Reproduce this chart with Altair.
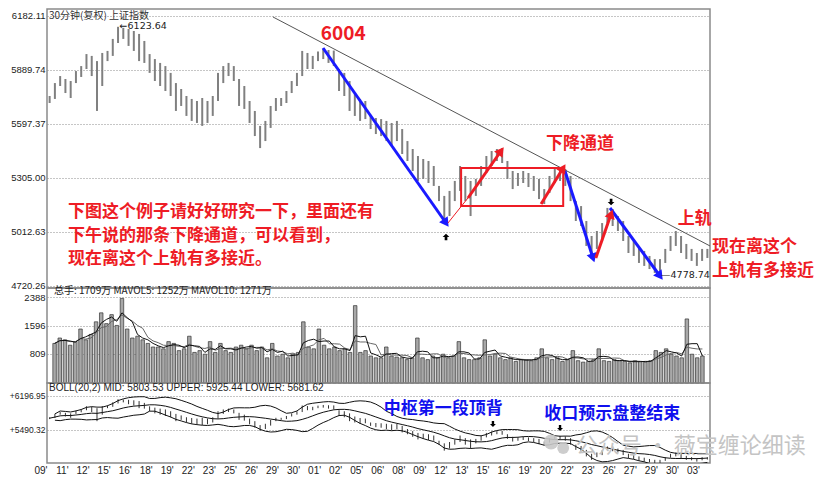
import altair as alt
import pandas as pd

# ---------------- data ----------------
days = ['09', '11', '12', '15', '16', '18', '19', '22', '23', '25', '26', '29', '30', '01', '02', '05',
        '06', '08', '09', '12', '13', '15', '16', '19', '20', '22', '23', '26', '27', '29', '30', '03']

high = [5749, 5819, 5857, 5841, 5830, 5884, 5911, 5976, 5966, 5938,
        5982, 5993, 6058, 6123.64, 6118, 6112, 6101, 6085, 6047, 5976,
        5949, 5928, 5911, 5874, 5819, 5787, 5749, 5733, 5722, 5738,
        5722, 5749, 5874, 5911, 5928, 5911, 5841, 5803, 5722, 5668,
        5587, 5614, 5695, 5738, 5738, 5776, 5830, 5874, 5993, 5982,
        5966, 5990, 6004, 5998, 5995, 5895, 5874, 5830, 5765, 5733,
        5722, 5641, 5630, 5624, 5614, 5603, 5614, 5570, 5505, 5462,
        5424, 5408, 5397, 5370, 5262, 5208, 5235, 5289, 5370, 5316,
        5289, 5300, 5370, 5424, 5451, 5462, 5467, 5397, 5343, 5332,
        5343, 5332, 5316, 5300, 5245, 5316, 5354, 5362, 5354, 5316,
        5180, 5153, 5072, 4991, 5018, 5061, 5143, 5137, 5099, 5072,
        4991, 4964, 4937, 4910, 4883, 4866, 4866, 4921, 4991, 5018,
        4991, 4948, 4921, 4899, 4921, 4921]

low = [5711, 5733, 5803, 5765, 5738, 5819, 5852, 5895, 5857, 5668,
       5803, 5938, 5966, 6036, 6058, 6020, 5993, 5938, 5928, 5874,
       5830, 5803, 5776, 5749, 5668, 5695, 5641, 5614, 5603, 5587,
       5603, 5641, 5722, 5819, 5857, 5830, 5695, 5679, 5603, 5532,
       5467, 5505, 5576, 5668, 5695, 5711, 5765, 5803, 5857, 5895,
       5895, 5938, 5949, 5928, 5911, 5776, 5749, 5668, 5641, 5614,
       5624, 5570, 5543, 5532, 5505, 5478, 5505, 5435, 5397, 5343,
       5289, 5300, 5278, 5262, 5180, 5056, 5099, 5180, 5235, 5180,
       5099, 5208, 5262, 5332, 5370, 5397, 5386, 5300, 5245, 5262,
       5278, 5256, 5235, 5191, 5164, 5224, 5278, 5289, 5262, 5180,
       5072, 5045, 4937, 4866, 4921, 4964, 5061, 5045, 5018, 4964,
       4899, 4883, 4845, 4829, 4812, 4791, 4778.74, 4845, 4910, 4937,
       4899, 4866, 4856, 4829, 4856, 4872]

vol = [1100, 1250, 1200, 1050, 1150, 1500, 1200, 1350, 1700, 1950,
       1650, 1900, 1600, 2350, 1500, 1250, 1300, 1200, 1100, 1000,
       1000, 950, 1150, 1100, 900, 950, 1300, 850, 900, 800,
       1150, 850, 1100, 900, 850, 1000, 1050, 950, 1050, 900,
       1000, 700, 1100, 750, 800, 700, 800, 850, 1700, 1000,
       950, 1500, 1050, 950, 1000, 900, 950, 850, 2150, 850,
       900, 750, 700, 700, 1000, 750, 720, 700, 650, 700,
       1250, 700, 650, 750, 700, 800, 700, 750, 1150, 700,
       650, 650, 700, 1200, 750, 800, 700, 650, 700, 600,
       650, 650, 620, 700, 950, 700, 650, 700, 600, 650,
       900, 620, 580, 600, 650, 950, 620, 600, 650, 620,
       600, 560, 620, 600, 580, 620, 900, 850, 950, 800,
       750, 700, 1780, 800, 700, 750]

price_ticks = [6182.11, 5889.74, 5597.37, 5305.00, 5012.63, 4720.26]
vol_ticks = [2388, 1596, 809]
boll_ticks = [6196.95, 5490.32]

# annotation geometry (bar index / price)
trend_i = [42.45, 125.5]
trend_p = [6176.7, 4937.0]

blue_i = [51.96, 97.94, 106.5]
blue_p = [6008.8, 5342.9, 5142.5]
blue_i2 = [75.33, 103.27, 116.0]
blue_p2 = [5061.3, 4871.8, 4774.4]
blue_ang = [144.9, 162.2, 143.7]

red_i = [79.5, 93.4, 103.8]
red_p = [5196.7, 5164.2, 4871.8]
red_i2 = [85.78, 97.58, 106.7]
red_p2 = [5451.2, 5359.1, 5110.1]
red_ang = [36.4, 31.4, 18.8]
red_thin_i = [75.7]
red_thin_p = [5061.3]
red_thin_i2 = [79.5]
red_thin_p2 = [5196.7]

box_i, box_i2, box_p, box_p2 = [78.2], [97.6], [5359.1], [5153.4]

up_i, up_p = [75.33], [4985.5]
down_i, down_p = [106.7], [5175.0]

block_text = ["下图这个例子请好好研究一下，里面还有", "下午说的那条下降通道，可以看到，", "现在离这个上轨有多接近。"]
block_i = [3.5, 3.5, 3.5]
block_p = [5120.9, 4991.0, 4866.4]

side_text = ["现在离这个", "上轨有多接近"]
side_i = [125.9, 125.9]
side_p = [4931.4, 4801.4]

boll_note = ["中枢第一段顶背", "收口预示盘整结束"]
boll_note_i = [74.8, 106.9]
boll_note_p = [5920.5, 5816.8]
boll_arrow_i = [84.25, 97.0]
boll_arrow_p = [5609.0, 5526.0]

# ---------------- chart ----------------
N = len(high)
df = pd.DataFrame({"i": list(range(N)), "high": high, "low": low, "vol": vol})

FONT = "Liberation Sans"
CJK = "Noto Sans CJK SC"
RED = "#ee1c25"
BLUE = "#1a1aff"
W = 663

xs = alt.Scale(domain=[-0.5, N - 0.5], nice=False, zero=False)
ys_p = alt.Scale(domain=[4709.4, 6220.0], nice=False, zero=False)
ys_v = alt.Scale(domain=[0, 2640], nice=False, zero=False)
ys_b = alt.Scale(domain=[4800, 6460], nice=False, zero=False)

UP = "M0,-1L1,0L0.4,0L0.4,1L-0.4,1L-0.4,0L-1,0Z"
DOWN = "M0,1L1,0L0.4,0L0.4,-1L-0.4,-1L-0.4,0L-1,0Z"


def axis_y(values, fmt=None, expr=None, size=9.5):
    kw = dict(values=values, ticks=False, domain=False, grid=True, gridDash=[1, 2],
              gridColor="#8c8c8c", labelFontSize=size, labelFont=FONT, labelColor="#222",
              labelPadding=2, title=None, labelOverlap=False)
    if fmt:
        kw["format"] = fmt
    if expr:
        kw["labelExpr"] = expr
    return alt.Axis(**kw)


js_days = "[" + ",".join("'%s'" % d for d in days) + "]"
x_axis = alt.Axis(values=[4 * k - 0.5 for k in range(len(days))],
                  labelExpr=js_days + "[round((datum.value + 0.5) / 4)] + \"'\"",
                  ticks=False, domain=False, grid=False, labelFontSize=10, labelFont=FONT,
                  labelColor="#222", labelAlign="right", labelPadding=2, labelFlush=False,
                  labelOverlap=False, title=None)

AX_P = axis_y(price_ticks, fmt=".2f")
AX_V = axis_y(vol_ticks, fmt="d")
AX_B = axis_y(boll_ticks, expr="'+' + format(datum.value, '.2f')", size=8.5)


def make_xy(scale, yaxis, xaxis=None):
    def X(f="i"):
        return alt.X(f, type="quantitative", scale=xs, axis=xaxis)

    def Y(f):
        return alt.Y(f, type="quantitative", scale=scale, axis=yaxis)
    return X, Y


def txt(data, X, Y, **mk):
    return alt.Chart(pd.DataFrame(data)).mark_text(**mk).encode(x=X("i"), y=Y("p"), text="t:N")


base = alt.Chart(df)

# ---- price panel
X, Y = make_xy(ys_p, AX_P)
p_bars = base.mark_rule(color="#808080", strokeWidth=2).encode(x=X("i"), y=Y("high"), y2="low:Q")
p_trend = alt.Chart(pd.DataFrame({"i": trend_i, "p": trend_p})).mark_line(
    color="#555555", strokeWidth=1).encode(x=X("i"), y=Y("p"))
blue_df = pd.DataFrame({"i": blue_i, "p": blue_p, "i2": blue_i2, "p2": blue_p2, "a": blue_ang})
red_df = pd.DataFrame({"i": red_i, "p": red_p, "i2": red_i2, "p2": red_p2, "a": red_ang})
p_blue = alt.Chart(blue_df).mark_rule(color=BLUE, strokeWidth=3).encode(
    x=X("i"), y=Y("p"), x2="i2:Q", y2="p2:Q")
p_blue_h = alt.Chart(blue_df).mark_point(shape="triangle-up", filled=True, size=110, color=BLUE, opacity=1).encode(
    x=X("i2"), y=Y("p2"), angle=alt.Angle("a:Q", scale=None))
p_red = alt.Chart(red_df).mark_rule(color=RED, strokeWidth=3).encode(
    x=X("i"), y=Y("p"), x2="i2:Q", y2="p2:Q")
p_red_thin = alt.Chart(pd.DataFrame({"i": red_thin_i, "p": red_thin_p, "i2": red_thin_i2, "p2": red_thin_p2})).mark_rule(
    color=RED, strokeWidth=1).encode(x=X("i"), y=Y("p"), x2="i2:Q", y2="p2:Q")
p_red_h = alt.Chart(red_df).mark_point(shape="triangle-up", filled=True, size=110, color=RED, opacity=1).encode(
    x=X("i2"), y=Y("p2"), angle=alt.Angle("a:Q", scale=None))
p_box = alt.Chart(pd.DataFrame({"i": box_i, "i2": box_i2, "p": box_p, "p2": box_p2})).mark_rect(
    fillOpacity=0, stroke=RED, strokeWidth=2).encode(x=X("i"), x2="i2:Q", y=Y("p"), y2="p2:Q")
p_up = alt.Chart(pd.DataFrame({"i": up_i, "p": up_p})).mark_point(
    shape=UP, filled=True, size=45, color="black", opacity=1).encode(x=X("i"), y=Y("p"))
p_down = alt.Chart(pd.DataFrame({"i": down_i, "p": down_p})).mark_point(
    shape=DOWN, filled=True, size=45, color="black", opacity=1).encode(x=X("i"), y=Y("p"))

p_block = txt({"i": block_i, "p": block_p, "t": block_text}, X, Y, align="left", baseline="middle",
              font=CJK, fontSize=17, fontWeight="bold", color=RED)
p_side = txt({"i": side_i, "p": side_p, "t": side_text}, X, Y, align="left", baseline="middle",
             font=CJK, fontSize=17, fontWeight="bold", color=RED)
p_lbl1 = txt({"i": [55.8], "p": [6084.6], "t": ["6004"]}, X, Y, align="center", baseline="middle",
             font=CJK, fontSize=19, fontWeight="bold", color=RED)
p_lbl2 = txt({"i": [100.8, 122.6], "p": [5489.0, 5083.0], "t": ["下降通道", "上轨"]}, X, Y, align="center",
             baseline="middle", font=CJK, fontSize=17, fontWeight="bold", color=RED)
p_small = txt({"i": [13.3, 116.2], "p": [6128.0, 4780.0], "t": ["←6123.64", "—4778.74"]}, X, Y, align="left",
              baseline="middle", font="DejaVu Sans", fontSize=9.5, color="#222")
p_title = txt({"i": [-0.5], "p": [6184.0], "t": ["30分钟(复权)  上证指数"]}, X, Y, align="left", baseline="middle",
              dx=2, font=CJK, fontSize=10, color="#333")

top = alt.layer(p_bars, p_trend, p_blue, p_blue_h, p_red_thin, p_red, p_red_h, p_box, p_up, p_down,
                p_block, p_side, p_lbl1, p_lbl2, p_small, p_title).properties(width=W, height=279)

# ---- volume panel
X, Y = make_xy(ys_v, AX_V)
v_bars = base.mark_bar(size=3.5, color="#a8a8a8", stroke="#333333", strokeWidth=0.7).encode(x=X("i"), y=Y("vol"))
v_ma = base.transform_window(ma5="mean(vol)", frame=[-2, 0]).transform_window(ma10="mean(vol)", frame=[-4, 0])
v_ma5 = v_ma.mark_line(color="#111111", strokeWidth=1).encode(x=X("i"), y=Y("ma5"))
v_ma10 = v_ma.mark_line(color="#666666", strokeWidth=1).encode(x=X("i"), y=Y("ma10"))
v_head = txt({"i": [-0.5], "p": [2560], "t": ["总手: 1709万  MAVOL5: 1252万  MAVOL10: 1271万"]}, X, Y,
             align="left", baseline="middle", dx=2, font=CJK, fontSize=10, color="#222")
mid = alt.layer(v_bars, v_ma10, v_ma5, v_head).properties(width=W, height=95)

# ---- BOLL panel
X, Y = make_xy(ys_b, AX_B, x_axis)
b_bars = base.mark_rule(color="#333333", strokeWidth=1, clip=True).encode(x=X("i"), y=Y("high"), y2="low:Q")
b_bands = (base.transform_calculate(c="(datum.high + datum.low) / 2")
           .transform_window(mid="mean(c)", sd="stdev(c)", frame=[-9, 0])
           .transform_calculate(upper="datum.mid + 2 * datum.sd", lower="datum.mid - 2 * datum.sd")
           .transform_fold(["upper", "mid", "lower"], as_=["band", "val"])
           .mark_line(color="#111111", strokeWidth=1, clip=True)
           .encode(x=X("i"), y=Y("val"), detail="band:N"))
b_head = txt({"i": [-0.5], "p": [6356], "t": ["BOLL(20,2) MID: 5803.53 UPPER: 5925.44 LOWER: 5681.62"]}, X, Y,
             align="left", baseline="middle", dx=2, font=FONT, fontSize=10, color="#222")
b_note = txt({"i": boll_note_i, "p": boll_note_p, "t": boll_note}, X, Y, align="center", baseline="middle",
             font=CJK, fontSize=17, fontWeight="bold", color="#1010ee")
b_arrow = alt.Chart(pd.DataFrame({"i": boll_arrow_i, "p": boll_arrow_p})).mark_point(
    shape=DOWN, filled=True, size=35, color="black", opacity=1).encode(x=X("i"), y=Y("p"))
b_icon = alt.Chart(pd.DataFrame({"i": [95.3, 97.6], "p": [5236, 5111], "s": [220, 140]})).mark_point(
    filled=True, color="#c8c8c8", opacity=0.9).encode(x=X("i"), y=Y("p"), size=alt.Size("s:Q", scale=None))
b_wm = txt({"i": [100.0], "p": [5153], "t": ["公众号 · 薇宝缠论细读"]}, X, Y, align="left", baseline="middle",
           font=CJK, fontSize=22, color="#c4c4c4")
bot = alt.layer(b_bars, b_bands, b_head, b_wm, b_icon, b_note, b_arrow).properties(width=W, height=80)

chart = (alt.vconcat(top, mid, bot, spacing=0, bounds="flush")
         .properties(padding=0, background="white")
         .configure_view(stroke="#8a8a8a", strokeWidth=1.5))

chart.save("out.html", embed_options={"renderer": "svg", "actions": False})
